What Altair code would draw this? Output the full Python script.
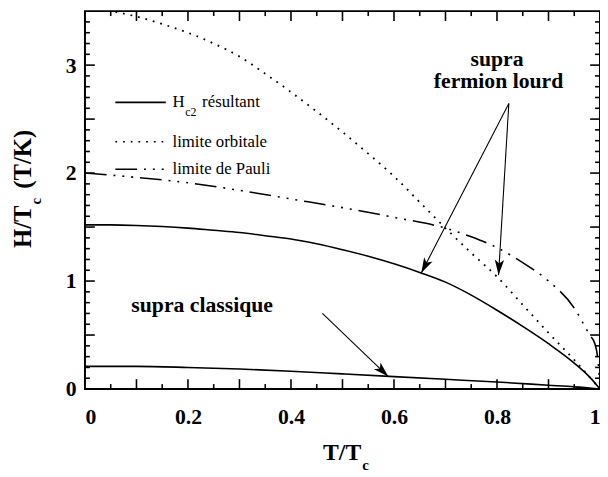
import altair as alt
import pandas as pd
import numpy as np

# ---- curve data (T/Tc, H/Tc) ----
t_hc2 = [0.0, 0.05, 0.1, 0.15, 0.2, 0.25, 0.3, 0.35, 0.4, 0.45, 0.5, 0.55, 0.6, 0.65, 0.7, 0.75, 0.8, 0.85, 0.9, 0.95, 0.98, 1.0]
hc2 = [1.52, 1.52, 1.515, 1.505, 1.49, 1.47, 1.45, 1.42, 1.39, 1.345, 1.29, 1.23, 1.16, 1.08, 0.99, 0.87, 0.73, 0.58, 0.42, 0.24, 0.11, 0.0]

t_orb = [0.0, 0.05, 0.1, 0.15, 0.2, 0.25, 0.3, 0.35, 0.4, 0.45, 0.5, 0.55, 0.6, 0.65, 0.7, 0.75, 0.8, 0.85, 0.9, 0.95, 1.0]
orb = [3.53, 3.50, 3.45, 3.38, 3.30, 3.20, 3.08, 2.92, 2.75, 2.57, 2.38, 2.18, 1.97, 1.73, 1.49, 1.26, 1.04, 0.78, 0.52, 0.27, 0.0]

t_pauli = [0.0, 0.1, 0.2, 0.3, 0.4, 0.5, 0.6, 0.7, 0.75, 0.8, 0.85, 0.9, 0.95, 0.98, 0.99, 0.997, 1.0]
pauli = [2.0, 1.96, 1.91, 1.84, 1.76, 1.68, 1.59, 1.49, 1.41, 1.31, 1.17, 1.0, 0.75, 0.50, 0.42, 0.22, 0.0]

t_cls = [0.0, 0.1, 0.2, 0.3, 0.4, 0.5, 0.6, 0.7, 0.8, 0.9, 0.95, 1.0]
cls = [0.21, 0.21, 0.20, 0.185, 0.165, 0.14, 0.115, 0.09, 0.065, 0.035, 0.02, 0.0]

# ---- axis ticks ----
x_labels = [0, 0.2, 0.4, 0.6, 0.8, 1.0]
y_labels = [0, 1, 2, 3]
x_major = [0.1, 0.2, 0.3, 0.4, 0.5, 0.6, 0.7, 0.8, 0.9]
x_minor = [0.05, 0.15, 0.25, 0.35, 0.45, 0.55, 0.65, 0.75, 0.85, 0.95]
y_major = [0.5, 1.0, 1.5, 2.0, 2.5, 3.0]
y_minor = [0.1, 0.2, 0.3, 0.4, 0.6, 0.7, 0.8, 0.9, 1.1, 1.2, 1.3, 1.4, 1.6, 1.7, 1.8, 1.9,
           2.1, 2.2, 2.3, 2.4, 2.6, 2.7, 2.8, 2.9, 3.1, 3.2, 3.3, 3.4]

# ---- annotations ----
arrow_x0 = [0.823, 0.823, 0.461]
arrow_y0 = [2.645, 2.645, 0.70]
arrow_x1 = [0.653, 0.803, 0.589]
arrow_y1 = [1.075, 1.055, 0.115]

legend_labels = ["résultant", "limite orbitale", "limite de Pauli"]
legend_y = [2.655, 2.29, 2.036]

W, H = 522, 383
XMAX, YMAX = 1.0, 3.5
xs = alt.Scale(domain=[0, XMAX], nice=False, zero=False)
ys = alt.Scale(domain=[0, YMAX], nice=False, zero=False)

SERIF = "Liberation Serif"

def curve(t, h, dash=None, width=1.6):
    df = pd.DataFrame({"t": t, "h": h})
    kw = dict(color="black", strokeWidth=width, clip=True, interpolate="monotone")
    if dash:
        kw["strokeDash"] = dash
    return alt.Chart(df).mark_line(**kw).encode(
        x=alt.X("t:Q", scale=xs, axis=alt.Axis(values=x_labels, format="~g", title=None)),
        y=alt.Y("h:Q", scale=ys, axis=alt.Axis(values=y_labels, format="d", title=None)),
        order="t:Q",
    )

DOT = [1.8, 6]
PAULI = [22, 7, 2, 7, 2, 7, 2, 7]

layers = []
layers.append(curve(t_hc2, hc2))
layers.append(curve(t_cls, cls))
layers.append(curve(t_orb, orb, DOT, 1.8))
layers.append(curve(t_pauli, pauli, PAULI, 1.6))

# arrows
adf = pd.DataFrame({"x0": arrow_x0, "y0": arrow_y0, "x1": arrow_x1, "y1": arrow_y1})
adf["ang"] = [float(np.degrees(np.arctan2((b - a) * W, (d - c) * H / YMAX)) % 360)
              for a, b, c, d in zip(adf.x0, adf.x1, adf.y0, adf.y1)]
layers.append(alt.Chart(adf).mark_rule(color="black", strokeWidth=1.1).encode(
    x=alt.X("x0:Q", scale=xs), y=alt.Y("y0:Q", scale=ys),
    x2="x1:Q", y2="y1:Q"))
head = "M0,0 L0.55,1.8 L0,1.35 L-0.55,1.8 Z"
layers.append(alt.Chart(adf).mark_point(shape=head, filled=True, size=300, color="black",
                                        opacity=1, strokeWidth=0).encode(
    x=alt.X("x1:Q", scale=xs), y=alt.Y("y1:Q", scale=ys),
    angle=alt.Angle("ang:Q", scale=None)))

# legend
lx0, lx1, ltx = 0.059, 0.157, 0.170
styles = [None, DOT, PAULI]
for i, st in enumerate(styles):
    kw = dict(color="black", strokeWidth=1.6)
    if st:
        kw["strokeDash"] = st
    layers.append(alt.Chart(pd.DataFrame({"a": [lx0], "b": [lx1], "y": [legend_y[i]]})).mark_rule(**kw).encode(
        x=alt.X("a:Q", scale=xs), x2="b:Q", y=alt.Y("y:Q", scale=ys)))
layers.append(alt.Chart(pd.DataFrame({"x": [ltx], "y": [legend_y[0]]})).mark_text(
    text="H", align="left", baseline="middle", font=SERIF, fontSize=17, color="black").encode(
    x=alt.X("x:Q", scale=xs), y=alt.Y("y:Q", scale=ys)))
layers.append(alt.Chart(pd.DataFrame({"x": [ltx], "y": [legend_y[0]]})).mark_text(
    text="c2", align="left", baseline="middle", font=SERIF, fontSize=12, color="black", dx=13, dy=10).encode(
    x=alt.X("x:Q", scale=xs), y=alt.Y("y:Q", scale=ys)))
layers.append(alt.Chart(pd.DataFrame({"x": [ltx], "y": [legend_y[0]], "lab": [legend_labels[0]]})).mark_text(
    align="left", baseline="middle", font=SERIF, fontSize=17, color="black", dx=30).encode(
    x=alt.X("x:Q", scale=xs), y=alt.Y("y:Q", scale=ys), text="lab:N"))
layers.append(alt.Chart(pd.DataFrame({"x": [ltx, ltx], "y": legend_y[1:], "lab": legend_labels[1:]})).mark_text(
    align="left", baseline="middle", font=SERIF, fontSize=17, color="black").encode(
    x=alt.X("x:Q", scale=xs), y=alt.Y("y:Q", scale=ys), text="lab:N"))

# bold annotations
ann = pd.DataFrame({"x": [0.09], "y": [0.78], "lab": ["supra classique"]})
layers.append(alt.Chart(ann).mark_text(align="left", baseline="middle", font=SERIF, fontSize=22,
                                       fontWeight="bold", color="black").encode(
    x=alt.X("x:Q", scale=xs), y=alt.Y("y:Q", scale=ys), text="lab:N"))
ann2 = pd.DataFrame({"x": [0.80, 0.803], "y": [3.06, 2.85], "lab": ["supra", "fermion lourd"]})
layers.append(alt.Chart(ann2).mark_text(align="center", baseline="middle", font=SERIF, fontSize=22,
                                        fontWeight="bold", color="black").encode(
    x=alt.X("x:Q", scale=xs), y=alt.Y("y:Q", scale=ys), text="lab:N"))

# inward ticks
def ticks(vals, axis, length):
    df = pd.DataFrame({"v": vals})
    c = alt.Chart(df).mark_rule(color="black", strokeWidth=1.6)
    if axis == "bottom":
        return c.encode(x=alt.X("v:Q", scale=xs), y=alt.value(H), y2=alt.value(H - length))
    if axis == "top":
        return c.encode(x=alt.X("v:Q", scale=xs), y=alt.value(0), y2=alt.value(length))
    if axis == "left":
        return c.encode(y=alt.Y("v:Q", scale=ys), x=alt.value(0), x2=alt.value(length))
    return c.encode(y=alt.Y("v:Q", scale=ys), x=alt.value(W), x2=alt.value(W - length))

for side in ["bottom", "top"]:
    layers.append(ticks(x_major, side, 10))
    layers.append(ticks(x_minor, side, 5))
for side in ["left", "right"]:
    layers.append(ticks(y_major, side, 10))
    layers.append(ticks(y_minor, side, 5))

# axis titles with subscripts
def ptext(txt, x, y, size, angle=0, align="left", weight="bold"):
    kw = dict(text=txt, align=align, baseline="middle", font=SERIF, fontSize=size,
              fontWeight=weight, color="black")
    if angle:
        kw["angle"] = angle
    return alt.Chart(pd.DataFrame({"d": [0]})).mark_text(**kw).encode(x=alt.value(x), y=alt.value(y))

layers.append(ptext("T/T", 280, 448, 24, align="right"))
layers.append(ptext("c", 281, 460, 15))
layers.append(ptext("H/T", -63, 240, 25, angle=270))
layers.append(ptext("c", -50, 196, 15, angle=270))
layers.append(ptext("(T/K)", -63, 180, 25, angle=270))

chart = alt.layer(*layers).properties(
    width=W, height=H,
    autosize="none",
    padding={"left": 78, "top": 0, "right": 0, "bottom": 86},
).configure_view(stroke="black", strokeWidth=2).configure_axis(
    ticks=False, domain=False, grid=False,
    labelFont=SERIF, labelFontWeight="bold", labelFontSize=22, labelColor="black",
).configure_axisX(labelPadding=18).configure_axisY(labelPadding=9)

chart.save("out.html", embed_options={"renderer": "svg", "actions": False})
